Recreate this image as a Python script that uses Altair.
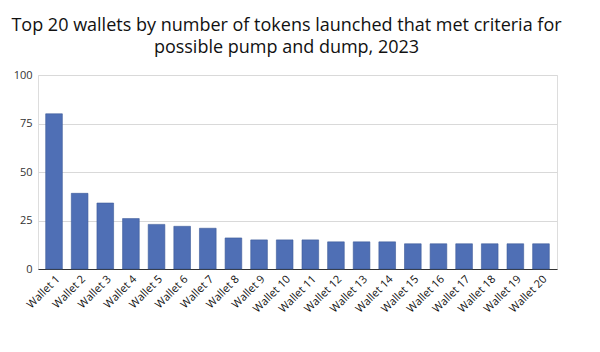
import altair as alt
import pandas as pd

wallets = [f"Wallet {i}" for i in range(1, 21)]
counts = [80, 39, 34, 26, 23, 22, 21, 16, 15, 15, 15, 14, 14, 14, 13, 13, 13, 13, 13, 13]
title_lines = ["Top 20 wallets by number of tokens launched that met criteria for",
               "possible pump and dump, 2023"]
y_ticks = [0, 25, 50, 75, 100]

df = pd.DataFrame({"wallet": wallets, "count": counts})

FONT = "Open Sans"

chart = alt.Chart(df).mark_bar(
    color="#4F6FB5", stroke="#3D5A99", strokeWidth=0.6
).encode(
    x=alt.X("wallet:N", sort=wallets, title=None,
            scale=alt.Scale(paddingInner=0.35, paddingOuter=0.3),
            axis=alt.Axis(labelAngle=-45, labelFontSize=11, labelColor="#111111",
                          labelFont=FONT, ticks=False, domainColor="#333333",
                          domainWidth=1, labelPadding=4)),
    y=alt.Y("count:Q", title=None,
            scale=alt.Scale(domain=[0, 100], nice=False),
            axis=alt.Axis(values=y_ticks, labelFontSize=11, labelColor="#333333",
                          labelFont=FONT, ticks=False, domain=False,
                          gridColor="#D9D9D9", gridWidth=1.2, labelPadding=6)),
).properties(
    width=519, height=194,
    title=alt.TitleParams(text=title_lines, font=FONT, fontSize=18,
                          fontWeight="normal", color="#111111",
                          anchor="middle", offset=12, lineHeight=22, dx=-11),
    padding={"left": 38, "top": 75, "right": 43, "bottom": 83},
    autosize=alt.AutoSizeParams(type="none"),
).configure_view(stroke=None).configure(background="white")

chart.save("out.html", embed_options={"renderer": "svg", "actions": False})
